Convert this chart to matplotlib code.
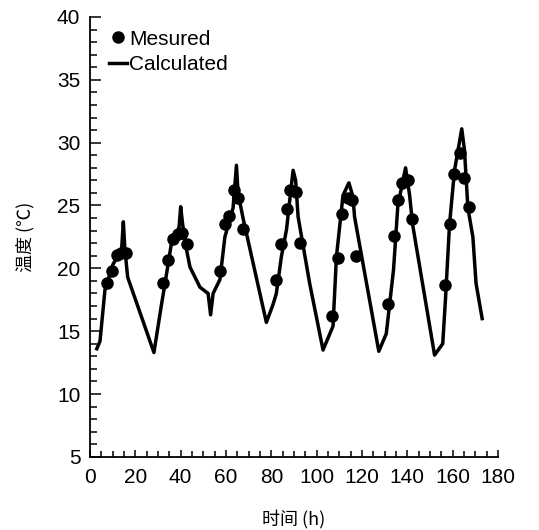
import numpy as np
import matplotlib
matplotlib.use("Agg")
import matplotlib.pyplot as plt
from matplotlib.ticker import MultipleLocator

plt.rcParams['font.family'] = ['Liberation Sans', 'DejaVu Sans']

# calculated temperature curve (time in h, temperature in C)
calc_t = [3.0, 4.4, 6.6, 10.1, 12.3, 13.9, 14.7, 15.4, 16.6, 28.2,
          31.6, 33.0, 36.1, 38.3, 39.3, 40.0, 40.8, 42.0, 44.1, 48.5, 52.1, 53.2, 54.3,
          57.3, 59.5, 63.1, 64.6, 65.3, 67.5, 77.8,
          80.7, 82.2, 84.4, 86.7, 88.1, 89.6, 90.7, 91.8, 96.9, 102.8,
          107.2, 108.7, 111.6, 114.2, 116.0, 116.7, 127.4,
          130.7, 133.9, 135.8, 139.2, 141.0, 142.3, 152.0,
          155.6, 156.8, 158.6, 160.8, 164.0, 165.2, 166.7, 168.9, 170.3, 173.0]
calc_T = [13.6, 14.2, 18.3, 20.3, 21.0, 21.4, 23.7, 21.5, 19.3, 13.3,
          17.2, 18.7, 22.2, 22.8, 23.3, 24.9, 23.6, 22.0, 20.1, 18.5, 18.0, 16.3, 18.0,
          19.1, 22.5, 24.8, 28.2, 26.0, 24.0, 15.7,
          17.1, 18.0, 20.9, 23.1, 25.4, 27.8, 27.0, 24.1, 18.8, 13.5,
          15.4, 20.9, 25.8, 26.8, 25.7, 24.1, 13.4,
          14.8, 19.9, 25.0, 28.0, 25.8, 23.5, 13.1,
          14.0, 17.5, 23.5, 27.8, 31.1, 29.4, 24.8, 22.5, 18.8, 16.0]

# measured points
meas_t = [7.5, 9.7, 11.9, 13.7, 15.9,
          32.2, 34.4, 36.6, 38.8, 40.5, 42.7,
          57.3, 59.5, 61.4, 63.4, 65.3, 67.5,
          82.2, 84.1, 86.7, 88.1, 90.7, 92.5,
          106.9, 109.4, 111.3, 113.8, 115.7, 117.5,
          131.4, 133.9, 135.8, 137.8, 140.2, 142.2,
          156.4, 158.6, 160.5, 163.0, 164.9, 167.0]
meas_T = [18.8, 19.8, 21.1, 21.2, 21.2,
          18.8, 20.7, 22.3, 22.7, 22.8, 21.9,
          19.8, 23.5, 24.2, 26.2, 25.6, 23.1,
          19.1, 21.9, 24.7, 26.2, 26.1, 22.0,
          16.2, 20.8, 24.3, 25.6, 25.4, 21.0,
          17.2, 22.6, 25.4, 26.8, 27.0, 23.9,
          18.7, 23.5, 27.5, 29.2, 27.2, 24.9]

fig = plt.figure(figsize=(5.39, 5.30), dpi=100)
ax = fig.add_axes([0.167, 0.138, 0.757, 0.830])

ax.plot(meas_t, meas_T, 'o', color='black', markersize=8, label='Mesured')
ax.plot(calc_t, calc_T, '-', color='black', linewidth=2.5, label='Calculated')

ax.set_xlim(0, 180)
ax.set_ylim(5, 40)
ax.xaxis.set_major_locator(MultipleLocator(20))
ax.xaxis.set_minor_locator(MultipleLocator(5))
ax.yaxis.set_major_locator(MultipleLocator(5))
ax.yaxis.set_minor_locator(MultipleLocator(1))

for s in ['top', 'right']:
    ax.spines[s].set_visible(False)
for s in ['left', 'bottom']:
    ax.spines[s].set_linewidth(1.3)

ax.tick_params(which='both', direction='in', labelsize=15, width=1.1)
ax.tick_params(axis='y', which='major', length=8, pad=7)
ax.tick_params(axis='y', which='minor', length=5)
ax.tick_params(axis='x', which='major', length=5, pad=8)
ax.tick_params(axis='x', which='minor', length=4)

cjk = ['Noto Sans CJK SC', 'DejaVu Sans']
ax.set_xlabel('时间 (h)', fontsize=13, family=cjk, labelpad=16)
ax.set_ylabel('温度 (℃)', fontsize=13, family=cjk, labelpad=16)

ax.legend(loc='upper left', frameon=False, fontsize=15, handlelength=0.9,
          handletextpad=0.1, borderaxespad=0.1, labelspacing=0.3,
          bbox_to_anchor=(0.02, 0.995))

fig.savefig('out.png', dpi=100)
